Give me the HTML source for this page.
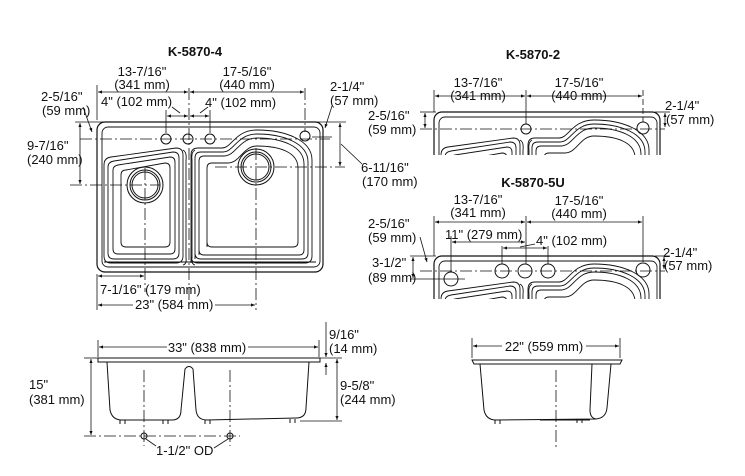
<!DOCTYPE html>
<html><head><meta charset="utf-8"><style>
html,body{margin:0;padding:0;background:#fff;}
svg{display:block;}
text{font-family:"Liberation Sans",Arial,sans-serif;font-size:13px;fill:#111;}
.b{font-weight:bold;}
</style></head><body>
<svg width="745" height="476" viewBox="0 0 745 476" xmlns="http://www.w3.org/2000/svg">
<defs>
<marker id="a" viewBox="0 0 10 10" refX="10" refY="5" markerWidth="7" markerHeight="5" orient="auto-start-reverse"><path d="M0,1 L10,5 L0,9 z" fill="#111"/></marker>
<clipPath id="c2"><rect x="420" y="100" width="260" height="55"/></clipPath>
<clipPath id="c5"><rect x="420" y="240" width="260" height="59"/></clipPath>
<g id="sink" fill="none" stroke="#111" stroke-width="0.9">
<rect x="97" y="122" width="226" height="150" rx="8" stroke-width="1.2"/>
<rect x="102" y="127" width="218" height="140" rx="6"/>
<line x1="104" y1="262" x2="316" y2="262"/>
<path d="M104,165 Q104,158 111,157 L176,148 Q183,148 183,155 L183,256 Q183,263 176,263 L111,263 Q104,263 104,256 Z"/>
<path d="M108,167 Q108,162 114,161 L173,152 Q179,152 179,158 L179,253 Q179,259 173,259 L114,259 Q108,259 108,253 Z"/>
<path d="M113,170 Q113,166 118,165 L170,157 Q175,157 175,162 L175,249 Q175,254 170,254 L118,254 Q113,254 113,249 Z"/>
<path d="M121,175 Q121,170 126,170 L165,163 Q170,163 170,168 L170,242 Q170,247 165,247 L126,247 Q121,247 121,242 Z"/>
<path d="M191,263 L191,155 Q191,148 198,148 L222,148 C232,148 235,130 257,130 C285,130 312,140 312,160 L312,256 Q312,263 305,263 L198,263 Q191,263 191,256 Z"/>
<path d="M195,259 L195,158 Q195,152 201,152 L223,152 C234,152 237,134 257,134 C283,134 308,143 308,162 L308,253 Q308,259 302,259 L201,259 Q195,259 195,253 Z"/>
<path d="M199,255 L199,161 Q199,156 204,156 L224,156 C236,156 239,138 257,138 C281,138 304,146 304,164 L304,250 Q304,255 299,255 L204,255 Q199,255 199,250 Z"/>
<path d="M207,247 L207,168 Q207,163 212,163 L228,163 C240,163 243,146 257,146 C279,146 298,152 298,168 L298,242 Q298,247 293,247 L212,247 Q207,247 207,242 Z"/>
<path d="M183,150 Q187,152 186,160 L186,258 Q187,264 183,265"/>
<path d="M195,150 Q191,152 192,160 L192,258 Q191,264 195,265"/>
</g>
</defs>

<use href="#sink"/>
<g fill="none" stroke="#111" stroke-width="1">
<circle cx="166" cy="139" r="5"/><circle cx="188" cy="139" r="5"/><circle cx="210" cy="139" r="5"/>
<circle cx="305" cy="136" r="5"/>
<circle cx="145" cy="185" r="18"/><circle cx="145" cy="185" r="15"/><circle cx="145" cy="185" r="13"/>
<circle cx="256" cy="167" r="18"/><circle cx="256" cy="167" r="15"/><circle cx="256" cy="167" r="13"/>
</g>
<g stroke="#111" stroke-width="0.8" fill="none">
<g stroke-dasharray="12,3,2,3">
<line x1="80" y1="139" x2="330" y2="139"/>
<line x1="70" y1="185" x2="160" y2="185"/>
<line x1="215" y1="167" x2="345" y2="167"/>
<line x1="189" y1="88" x2="189" y2="300"/>
<line x1="145" y1="168" x2="145" y2="292"/>
<line x1="256" y1="148" x2="256" y2="310"/>
<line x1="305" y1="88" x2="305" y2="132"/>
</g>
<line x1="97" y1="85" x2="97" y2="120"/>
<line x1="97" y1="274" x2="97" y2="310"/>
<line x1="75" y1="122" x2="346" y2="122"/>
<line x1="98" y1="92" x2="188" y2="92" marker-start="url(#a)" marker-end="url(#a)"/>
<line x1="190" y1="92" x2="304" y2="92" marker-start="url(#a)" marker-end="url(#a)"/>
<line x1="166" y1="110" x2="166" y2="133"/><line x1="210" y1="110" x2="210" y2="133"/>
<line x1="167" y1="116" x2="188" y2="116" marker-start="url(#a)" marker-end="url(#a)"/>
<line x1="190" y1="116" x2="209" y2="116" marker-start="url(#a)" marker-end="url(#a)"/>
<line x1="172" y1="107" x2="180" y2="113"/><line x1="200" y1="113" x2="208" y2="107"/>
<line x1="80" y1="123" x2="80" y2="184" marker-start="url(#a)" marker-end="url(#a)"/>
<line x1="83" y1="107" x2="92" y2="132" marker-end="url(#a)"/>
<line x1="340" y1="123" x2="340" y2="166" marker-start="url(#a)" marker-end="url(#a)"/>
<line x1="341" y1="144" x2="362" y2="164"/>
<line x1="332" y1="106" x2="325" y2="128" marker-end="url(#a)"/>
<line x1="312" y1="137" x2="332" y2="137"/>
<line x1="98" y1="276" x2="144" y2="276" marker-start="url(#a)" marker-end="url(#a)"/>
<line x1="98" y1="305" x2="133" y2="305" marker-start="url(#a)"/>
<line x1="215" y1="305" x2="255" y2="305" marker-end="url(#a)"/>
</g>
<text x="195" y="56" class="b" text-anchor="middle">K-5870-4</text>
<text x="142" y="76" text-anchor="middle">13-7/16"</text>
<text x="142" y="89" text-anchor="middle">(341 mm)</text>
<text x="247" y="76" text-anchor="middle">17-5/16"</text>
<text x="247" y="89" text-anchor="middle">(440 mm)</text>
<text x="101" y="106">4" (102 mm)</text>
<text x="205" y="107">4" (102 mm)</text>
<text x="41" y="101">2-5/16"</text>
<text x="42" y="115">(59 mm)</text>
<text x="27" y="150">9-7/16"</text>
<text x="27" y="164">(240 mm)</text>
<text x="330" y="91">2-1/4"</text>
<text x="330" y="105">(57 mm)</text>
<text x="361" y="172">6-11/16"</text>
<text x="362" y="186">(170 mm)</text>
<text x="100" y="294">7-1/16" (179 mm)</text>
<text x="135" y="309">23" (584 mm)</text>

<g clip-path="url(#c2)"><use href="#sink" transform="translate(337,-10)"/></g>
<g fill="none" stroke="#111" stroke-width="1">
<circle cx="526" cy="129" r="5"/><circle cx="643" cy="128" r="6"/>
</g>
<g stroke="#111" stroke-width="0.8" fill="none">
<line x1="420" y1="129" x2="665" y2="129" stroke-dasharray="12,3,2,3"/>
<line x1="434" y1="90" x2="434" y2="112"/><line x1="526" y1="90" x2="526" y2="124"/>
<line x1="643" y1="90" x2="643" y2="122" stroke-dasharray="6,3"/>
<line x1="435" y1="96" x2="525" y2="96" marker-start="url(#a)" marker-end="url(#a)"/>
<line x1="527" y1="96" x2="642" y2="96" marker-start="url(#a)" marker-end="url(#a)"/>
<line x1="420" y1="112" x2="436" y2="112"/>
<line x1="425" y1="113" x2="425" y2="128" marker-start="url(#a)" marker-end="url(#a)"/>
<line x1="655" y1="112" x2="670" y2="112"/>
<line x1="665" y1="113" x2="665" y2="127" marker-start="url(#a)" marker-end="url(#a)"/>
</g>
<text x="533" y="59" class="b" text-anchor="middle">K-5870-2</text>
<text x="478" y="87" text-anchor="middle">13-7/16"</text>
<text x="478" y="100" text-anchor="middle">(341 mm)</text>
<text x="579" y="87" text-anchor="middle">17-5/16"</text>
<text x="579" y="100" text-anchor="middle">(440 mm)</text>
<text x="368" y="120">2-5/16"</text>
<text x="368" y="134">(59 mm)</text>
<text x="665" y="110">2-1/4"</text>
<text x="666" y="124">(57 mm)</text>

<g clip-path="url(#c5)"><use href="#sink" transform="translate(337,134)"/></g>
<g fill="none" stroke="#111" stroke-width="1">
<circle cx="451" cy="279" r="7"/>
<circle cx="502" cy="271" r="7"/><circle cx="525" cy="271" r="7"/><circle cx="548" cy="271" r="7"/>
<circle cx="643" cy="270" r="7"/>
</g>
<g stroke="#111" stroke-width="0.8" fill="none">
<line x1="420" y1="271" x2="665" y2="271" stroke-dasharray="12,3,2,3"/>
<line x1="410" y1="279" x2="465" y2="279"/>
<line x1="434" y1="216" x2="434" y2="256"/><line x1="526" y1="216" x2="526" y2="264"/>
<line x1="643" y1="216" x2="643" y2="262"/>
<line x1="451" y1="236" x2="451" y2="272"/>
<line x1="435" y1="222" x2="525" y2="222" marker-start="url(#a)" marker-end="url(#a)"/>
<line x1="527" y1="222" x2="642" y2="222" marker-start="url(#a)" marker-end="url(#a)"/>
<line x1="452" y1="242" x2="525" y2="242" marker-start="url(#a)" marker-end="url(#a)"/>
<line x1="503" y1="248" x2="547" y2="248" marker-start="url(#a)" marker-end="url(#a)"/>
<line x1="502" y1="246" x2="502" y2="264"/><line x1="548" y1="246" x2="548" y2="264"/>
<line x1="520" y1="247" x2="535" y2="244"/>
<line x1="410" y1="256" x2="436" y2="256"/>
<line x1="413" y1="257" x2="413" y2="278" marker-start="url(#a)" marker-end="url(#a)"/>
<line x1="420" y1="237" x2="427" y2="262" marker-end="url(#a)"/>
<line x1="655" y1="256" x2="670" y2="256"/>
<line x1="664" y1="257" x2="664" y2="269" marker-start="url(#a)" marker-end="url(#a)"/>
</g>
<text x="533" y="187" class="b" text-anchor="middle">K-5870-5U</text>
<text x="478" y="204" text-anchor="middle">13-7/16"</text>
<text x="478" y="217" text-anchor="middle">(341 mm)</text>
<text x="579" y="205" text-anchor="middle">17-5/16"</text>
<text x="579" y="218" text-anchor="middle">(440 mm)</text>
<text x="445" y="239">11" (279 mm)</text>
<text x="536" y="245">4" (102 mm)</text>
<text x="368" y="228">2-5/16"</text>
<text x="368" y="242">(59 mm)</text>
<text x="372" y="267">3-1/2"</text>
<text x="368" y="282">(89 mm)</text>
<text x="663" y="257">2-1/4"</text>
<text x="664" y="270">(57 mm)</text>

<g fill="none" stroke="#111" stroke-width="1">
<path d="M98,358 L320,358 L320,362 L98,362 Z"/>
<path d="M107,362 L110,410 Q112,420 122,420 L172,420 Q181,420 181,410 L185,369 Q189,364 193,369 L196,410 Q197,420 207,420 L296,418 Q306,418 306,408 L309,362"/>
<path d="M120,420 L120,424 M125,420 L125,424 M163,420 L163,424 M168,420 L168,424 M205,420 L205,424 M210,420 L210,424 M290,419 L290,423 M295,419 L295,423"/>
<circle cx="144" cy="436" r="3"/><circle cx="230" cy="436" r="3"/>
</g>
<g stroke="#111" stroke-width="0.8" fill="none">
<g stroke-dasharray="12,3,2,3">
<line x1="144" y1="370" x2="144" y2="446"/>
<line x1="230" y1="370" x2="230" y2="446"/>
<line x1="84" y1="436" x2="240" y2="436"/>
</g>
<line x1="98" y1="340" x2="98" y2="357"/><line x1="319" y1="340" x2="319" y2="357"/>
<line x1="99" y1="347" x2="167" y2="347" marker-start="url(#a)"/>
<line x1="248" y1="347" x2="318" y2="347" marker-end="url(#a)"/>
<line x1="84" y1="358" x2="98" y2="358"/>
<line x1="91" y1="359" x2="91" y2="435" marker-start="url(#a)" marker-end="url(#a)"/>
<line x1="320" y1="358" x2="342" y2="358"/>
<line x1="300" y1="421" x2="342" y2="421"/>
<line x1="337" y1="359" x2="337" y2="420" marker-start="url(#a)" marker-end="url(#a)"/>
<line x1="326" y1="322" x2="326" y2="357" marker-end="url(#a)"/>
<line x1="326" y1="375" x2="326" y2="363" marker-end="url(#a)"/>
<line x1="146" y1="439" x2="156" y2="446"/>
<line x1="228" y1="439" x2="214" y2="448"/>
</g>
<text x="207" y="352" text-anchor="middle">33" (838 mm)</text>
<text x="29" y="389">15"</text>
<text x="29" y="404">(381 mm)</text>
<text x="329" y="339">9/16"</text>
<text x="329" y="353">(14 mm)</text>
<text x="340" y="390">9-5/8"</text>
<text x="340" y="404">(244 mm)</text>
<text x="156" y="455">1-1/2" OD</text>

<g fill="none" stroke="#111" stroke-width="1">
<path d="M472,360 L622,360 L620,364 L474,364 Z"/>
<path d="M480,364 L484,410 Q486,420 496,420 L596,419 Q606,418 607,408 L611,364"/>
<path d="M592,364 L590,410 Q590,418 596,419"/>
<path d="M495,420 L495,424 M500,420 L500,424 M577,419 L577,423 M582,419 L582,423 M540,420 L590,420"/>
</g>
<g stroke="#111" stroke-width="0.8" fill="none">
<line x1="556" y1="370" x2="556" y2="448" stroke-dasharray="12,3,2,3"/>
<line x1="472" y1="338" x2="472" y2="358"/><line x1="620" y1="338" x2="620" y2="358"/>
<line x1="473" y1="346" x2="502" y2="346" marker-start="url(#a)"/>
<line x1="586" y1="346" x2="619" y2="346" marker-end="url(#a)"/>
</g>
<text x="544" y="351" text-anchor="middle">22" (559 mm)</text>
</svg>
</body></html>
